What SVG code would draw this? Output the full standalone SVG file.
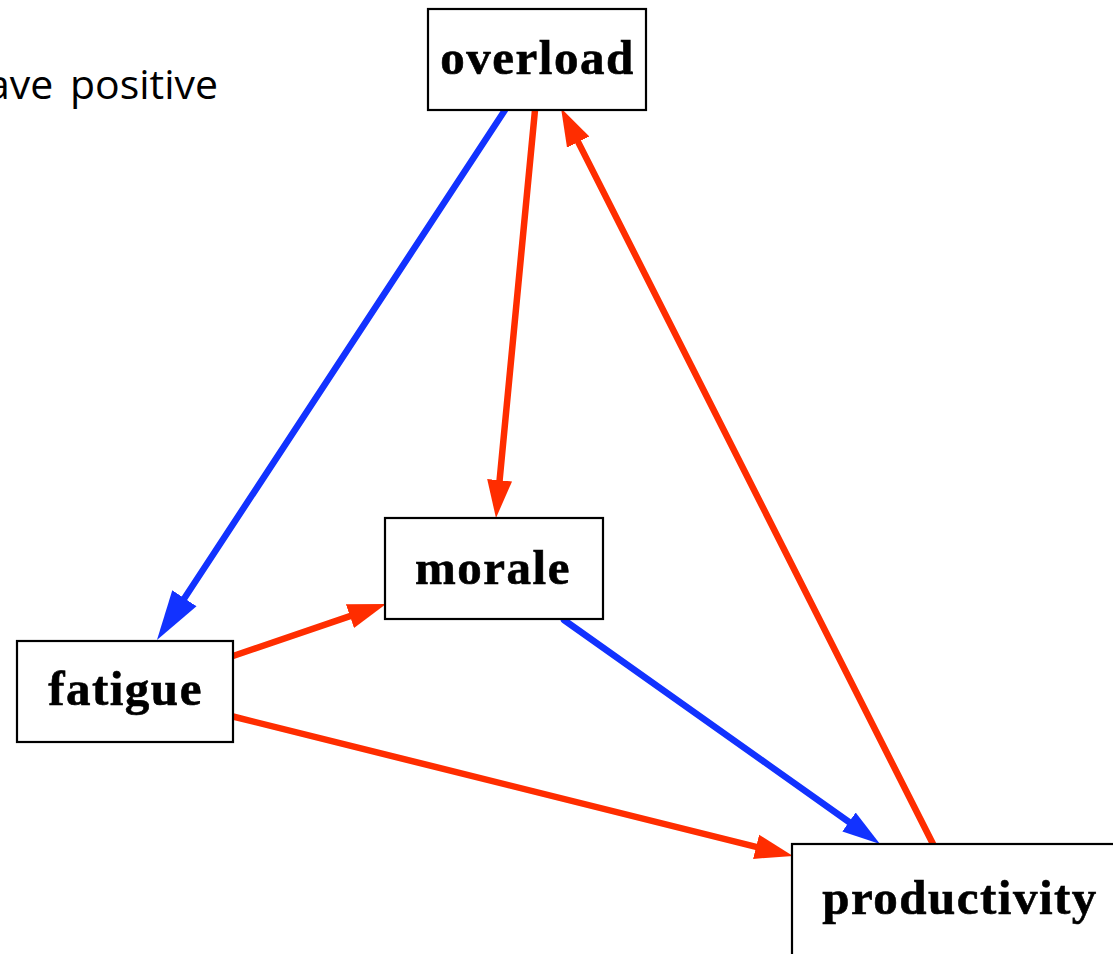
<svg xmlns="http://www.w3.org/2000/svg" width="1113" height="954" viewBox="0 0 1113 954">
  <style>
    .box { fill: #ffffff; stroke: #000000; stroke-width: 2.2; }
    .label { font-family: "Liberation Serif", "Times New Roman", serif; font-weight: bold; font-size: 49px; letter-spacing: 1.5px; text-anchor: middle; fill: #000000; stroke: #000000; stroke-width: 0.6px; }
    .note { font-family: "Open Sans", "Noto Sans", sans-serif; font-size: 41px; word-spacing: 6px; fill: #000000; }
    .pos { stroke: #ff2d00; stroke-width: 6.5; stroke-linecap: round; fill: none; }
    .neg { stroke: #1232ff; stroke-width: 6.5; stroke-linecap: round; fill: none; }
  </style>
  <defs>
    <marker id="headRed" markerUnits="userSpaceOnUse" viewBox="0 -14 40 28" markerWidth="40" markerHeight="28" refX="0" refY="0" orient="auto">
      <path d="M0,-12.5 L38,0 L0,12.5 Z" fill="#ff2d00"/>
    </marker>
    <marker id="headBlue" markerUnits="userSpaceOnUse" viewBox="0 -14 40 28" markerWidth="40" markerHeight="28" refX="0" refY="0" orient="auto">
      <path d="M0,-11.5 L38,0 L0,11.5 Z" fill="#1232ff"/>
    </marker>
    <marker id="headBlueLarge" markerUnits="userSpaceOnUse" viewBox="0 -16 52 32" markerWidth="52" markerHeight="32" refX="0" refY="0" orient="auto">
      <path d="M0,-14.5 L50,0 L0,14.5 Z" fill="#1232ff"/>
    </marker>
  </defs>

  <rect width="1113" height="954" fill="#ffffff"/>

  <text class="note" x="-13" y="99">ave positive</text>

  <g id="connectors">
    <line class="neg" x1="505" y1="110" x2="184.4" y2="598.2" marker-end="url(#headBlueLarge)"/>
    <line class="pos" x1="535" y1="110" x2="499.6" y2="480.2" marker-end="url(#headRed)"/>
    <line class="pos" x1="933" y1="844" x2="578.2" y2="142.1" marker-end="url(#headRed)"/>
    <line class="pos" x1="233" y1="656" x2="350.0" y2="616.2" marker-end="url(#headRed)"/>
    <line class="neg" x1="564" y1="620" x2="849.0" y2="822.0" marker-end="url(#headBlue)"/>
    <line class="pos" x1="231" y1="716" x2="756.1" y2="846.8" marker-end="url(#headRed)"/>
  </g>

  <g id="overload">
    <rect class="box" x="428" y="9" width="218" height="101"/>
    <text class="label" x="537.5" y="74">overload</text>
  </g>
  <g id="morale">
    <rect class="box" x="385" y="518" width="218" height="101"/>
    <text class="label" x="493" y="584">morale</text>
  </g>
  <g id="fatigue">
    <rect class="box" x="17" y="641" width="216" height="101"/>
    <text class="label" x="125.5" y="705">fatigue</text>
  </g>
  <g id="productivity">
    <rect class="box" x="792" y="844" width="400" height="200"/>
    <text class="label" x="960" y="914">productivity</text>
  </g>
</svg>
